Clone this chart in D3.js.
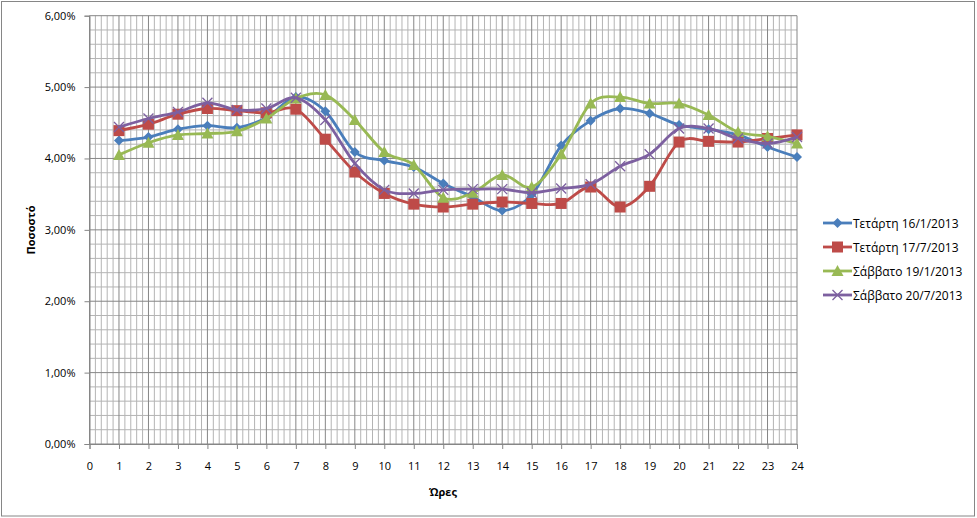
<!DOCTYPE html>
<html>
<head>
<meta charset="utf-8">
<script src="https://cdn.jsdelivr.net/npm/d3@7"></script>
<style>
  body { margin: 0; background: #fff; }
  svg text { font-family: "Open Sans", "Noto Sans", sans-serif; fill: #000; }
</style>
</head>
<body>
<div id="chart"></div>
<script>
/**
 * Data
 */

const hours = d3.range(1, 25);

const seriesNames = [
  'Τετάρτη 16/1/2013',
  'Τετάρτη 17/7/2013',
  'Σάββατο 19/1/2013',
  'Σάββατο 20/7/2013',
];

const wed16Jan = [4.25, 4.30, 4.41, 4.46, 4.43, 4.57, 4.86, 4.66, 4.09, 3.97, 3.88, 3.65,
                  3.46, 3.27, 3.49, 4.18, 4.53, 4.70, 4.63, 4.47, 4.41, 4.33, 4.16, 4.02];
const wed17Jul = [4.39, 4.48, 4.62, 4.70, 4.67, 4.64, 4.69, 4.27, 3.81, 3.51, 3.36, 3.32,
                  3.36, 3.39, 3.37, 3.37, 3.60, 3.32, 3.61, 4.23, 4.24, 4.23, 4.28, 4.33];
const sat19Jan = [4.05, 4.22, 4.33, 4.35, 4.38, 4.56, 4.84, 4.89, 4.54, 4.09, 3.91, 3.45,
                  3.52, 3.77, 3.60, 4.06, 4.77, 4.86, 4.77, 4.77, 4.61, 4.37, 4.31, 4.21];
const sat20Jul = [4.44, 4.56, 4.65, 4.78, 4.68, 4.70, 4.85, 4.54, 3.93, 3.56, 3.51, 3.56,
                  3.57, 3.57, 3.52, 3.58, 3.64, 3.89, 4.06, 4.42, 4.42, 4.28, 4.21, 4.30];

const xTicks = d3.range(0, 25);
const yTicks = [0, 1, 2, 3, 4, 5, 6];

/**
 * Layout
 */

const width = 977;
const height = 518;
const plot = { left: 89.5, right: 797, top: 15.7, bottom: 444 };

const colors = ['#4A7EBB', '#BE4B48', '#98B954', '#7D60A0'];
const markers = ['diamond', 'square', 'triangle', 'cross'];

const series = [wed16Jan, wed17Jul, sat19Jan, sat20Jul].map((values, i) => ({
  name: seriesNames[i],
  color: colors[i],
  marker: markers[i],
  points: values.map((v, j) => ({ h: hours[j], v })),
}));

const svg = d3.select('#chart')
              .append('svg')
              .attr('width', width)
              .attr('height', height);

svg.append('rect')
   .attr('x', 1.5).attr('y', 1.5)
   .attr('width', 973).attr('height', 514.5)
   .attr('fill', '#fff')
   .attr('stroke', '#868686')
   .attr('stroke-width', 1);

const x = d3.scaleLinear().domain([0, 24]).range([plot.left, plot.right]);
const y = d3.scaleLinear().domain([0, 6]).range([plot.bottom, plot.top]);

/**
 * Grid
 */

const grid = svg.append('g');

grid.selectAll('line.vminor')
    .data(d3.range(0, 24 * 5 + 1).map(i => i / 5).filter((d, i) => i % 5 !== 0))
    .enter().append('line')
    .attr('x1', d => x(d)).attr('x2', d => x(d))
    .attr('y1', plot.top).attr('y2', plot.bottom)
    .attr('stroke', '#b4b4b4').attr('stroke-width', 1);

grid.selectAll('line.hminor')
    .data(d3.range(0, 6 * 5 + 1).map(i => i / 5).filter((d, i) => i % 5 !== 0))
    .enter().append('line')
    .attr('x1', plot.left).attr('x2', plot.right)
    .attr('y1', d => y(d)).attr('y2', d => y(d))
    .attr('stroke', '#b4b4b4').attr('stroke-width', 1);

grid.selectAll('line.vmajor')
    .data(xTicks)
    .enter().append('line')
    .attr('x1', d => x(d)).attr('x2', d => x(d))
    .attr('y1', plot.top).attr('y2', plot.bottom)
    .attr('stroke', '#868686').attr('stroke-width', 1);

grid.selectAll('line.hmajor')
    .data(yTicks)
    .enter().append('line')
    .attr('x1', plot.left).attr('x2', plot.right)
    .attr('y1', d => y(d)).attr('y2', d => y(d))
    .attr('stroke', '#868686').attr('stroke-width', 1);

/**
 * Axes
 */

const xAxis = svg.append('g')
   .attr('transform', `translate(0,${plot.bottom})`)
   .call(d3.axisBottom(x).tickValues(xTicks).tickSize(5).tickPadding(13).tickFormat(d3.format('d')));

const yAxis = svg.append('g')
   .attr('transform', `translate(${plot.left},0)`)
   .call(d3.axisLeft(y).tickValues(yTicks).tickSize(5).tickPadding(9)
           .tickFormat(d => d.toFixed(2).replace('.', ',') + '%'));

[xAxis, yAxis].forEach(axis => {
  axis.select('.domain').attr('stroke', '#868686');
  axis.selectAll('.tick line').attr('stroke', '#868686');
  axis.selectAll('.tick text').attr('font-size', 11).attr('fill', '#000')
      .attr('font-family', '"Open Sans", sans-serif');
});

svg.append('text')
   .attr('x', 443).attr('y', 496)
   .attr('text-anchor', 'middle')
   .attr('font-size', 11).attr('font-weight', 'bold')
   .text('Ώρες');

svg.append('text')
   .attr('transform', 'translate(35,230) rotate(-90)')
   .attr('text-anchor', 'middle')
   .attr('font-size', 11).attr('font-weight', 'bold')
   .text('Ποσοστό');

/**
 * Markers
 */

function drawMarker(g, type, color) {
  if (type === 'diamond') {
    g.append('path').attr('d', 'M0,-5L5,0L0,5L-5,0Z').attr('fill', color);
  } else if (type === 'square') {
    g.append('rect').attr('x', -5.5).attr('y', -5.5).attr('width', 11).attr('height', 11)
     .attr('fill', color);
  } else if (type === 'triangle') {
    g.append('path').attr('d', 'M0,-6L6,5L-6,5Z').attr('fill', color);
  } else {
    g.append('path').attr('d', 'M-5,-5L5,5M-5,5L5,-5')
     .attr('stroke', color).attr('stroke-width', 1.3).attr('fill', 'none');
  }
}

/**
 * Series
 */

const line = d3.line()
               .x(d => x(d.h))
               .y(d => y(d.v))
               .curve(d3.curveCatmullRom.alpha(0));

series.forEach(s => {
  const g = svg.append('g');

  g.append('path')
   .datum(s.points)
   .attr('d', line)
   .attr('fill', 'none')
   .attr('stroke', s.color)
   .attr('stroke-width', 2.8)
   .attr('stroke-linejoin', 'round');

  g.selectAll('g.mark')
   .data(s.points)
   .enter().append('g')
   .attr('transform', d => `translate(${x(d.h)},${y(d.v)})`)
   .each(function () { drawMarker(d3.select(this), s.marker, s.color); });
});

/**
 * Legend
 */

const legend = svg.append('g').attr('transform', 'translate(823,223)');

series.forEach((s, i) => {
  const item = legend.append('g').attr('transform', `translate(0,${i * 24})`);

  item.append('line')
      .attr('x1', 0).attr('x2', 29)
      .attr('stroke', s.color).attr('stroke-width', 2.8);

  const m = item.append('g').attr('transform', 'translate(14.5,0)');
  drawMarker(m, s.marker, s.color);

  item.append('text')
      .attr('x', 30).attr('y', 4.5)
      .attr('font-size', 12)
      .text(s.name);
});
</script>
</body>
</html>
